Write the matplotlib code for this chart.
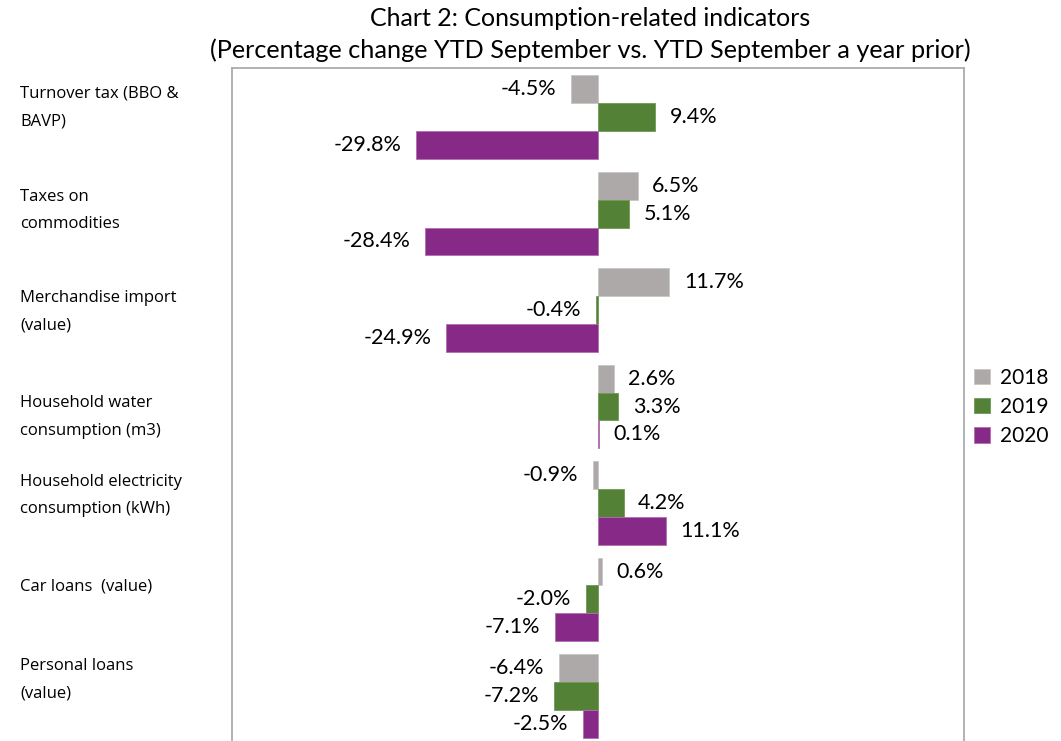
import matplotlib
matplotlib.use("Agg")
import matplotlib.pyplot as plt
import numpy as np

categories = [
    "Turnover tax (BBO &\nBAVP)",
    "Taxes on\ncommodities",
    "Merchandise import\n(value)",
    "Household water\nconsumption (m3)",
    "Household electricity\nconsumption (kWh)",
    "Car loans  (value)",
    "Personal loans\n(value)",
]
series_names = ["2018", "2019", "2020"]
v2018 = [-4.5, 6.5, 11.7, 2.6, -0.9, 0.6, -6.4]
v2019 = [9.4, 5.1, -0.4, 3.3, 4.2, -2.0, -7.2]
v2020 = [-29.8, -28.4, -24.9, 0.1, 11.1, -7.1, -2.5]
colors = ["#ADA9A8", "#538135", "#872A87"]
edgecolors = ["#C8C6C5", "#6E9A55", "#B070B0"]

W, H = 1061, 741
fig = plt.figure(figsize=(W / 100, H / 100), dpi=100)
ax = fig.add_axes([232 / W, -4 / H, (964 - 232) / W, (745 - 68) / H])

n = len(categories)
y = np.arange(n)
bh = 0.29
data = [v2018, v2019, v2020]
for i, (vals, c, ec, name) in enumerate(zip(data, colors, edgecolors, series_names)):
    pos = y + (i - 1) * bh
    ax.barh(pos, vals, height=bh, color=c, edgecolor=ec, linewidth=0.6, label=name)
    for p, v in zip(pos, vals):
        txt = f"{v:.1f}%"
        if v >= 0:
            ax.annotate(txt, (v, p), xytext=(10.5, 0), textcoords="offset points",
                        ha="left", va="center", fontsize=15.5, family="Lato")
        else:
            ax.annotate(txt, (v, p), xytext=(-10.5, 0), textcoords="offset points",
                        ha="right", va="center", fontsize=15.5, family="Lato")

ax.set_xlim(-60, 60)
ax.set_ylim(n - 1 + 0.508, -0.508)
ax.set_xticks([])
ax.set_yticks([])
for s in ["top", "left", "right"]:
    ax.spines[s].set_color("#A6A6A6")
    ax.spines[s].set_linewidth(1.2)
ax.spines["bottom"].set_visible(False)

# category labels, left aligned
label_offsets = [-0.1, -0.03, 0.02, 0.11, -0.08, -0.13, -0.17]
trans = matplotlib.transforms.blended_transform_factory(fig.transFigure, ax.transData)
for yi, lab, off in zip(y, categories, label_offsets):
    ax.text(20 / W, yi + off, lab, transform=trans,
            ha="left", va="center", fontsize=12, family="Open Sans", linespacing=1.95)

fig.text(590 / W, 1 - 18 / H, "Chart 2: Consumption-related indicators", ha="center", va="center",
         fontsize=18, family="Lato")
fig.text(590 / W, 1 - 50 / H, "(Percentage change YTD September vs. YTD September a year prior)",
         ha="center", va="center", fontsize=18.2, family="Lato")

fig.legend(loc="center left", bbox_to_anchor=(966 / W, 1 - 407 / H), frameon=False,
           prop={"family": "Lato", "size": 15}, handlelength=0.75, handleheight=0.75,
           handletextpad=0.5, labelspacing=0.45, borderaxespad=0)

fig.savefig("out.png", dpi=100)
